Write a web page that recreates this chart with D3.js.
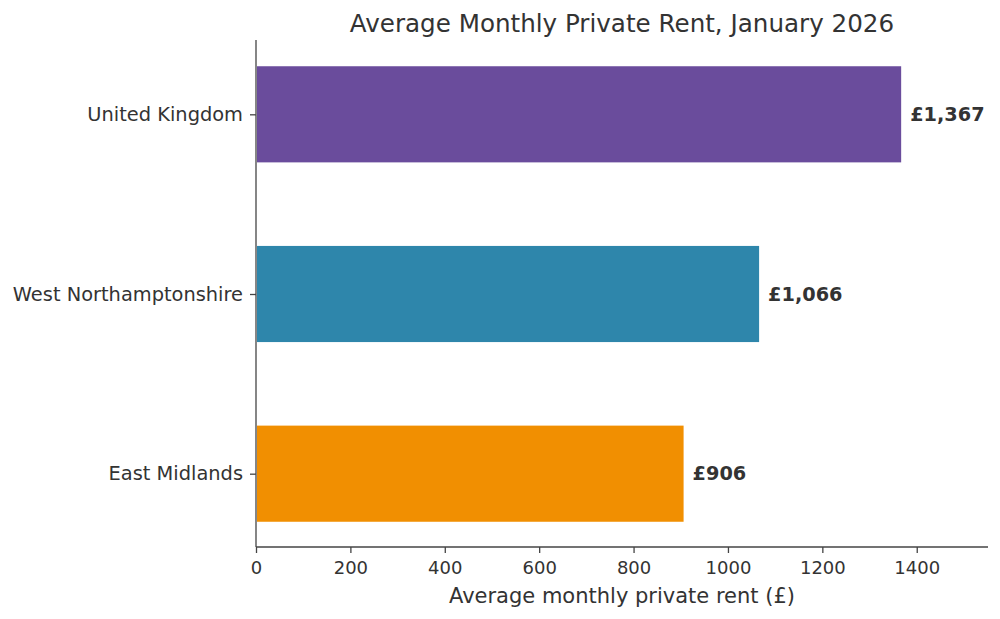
<!DOCTYPE html>
<html>
<head>
<meta charset="utf-8">
<script src="https://cdn.jsdelivr.net/npm/d3@7"></script>
<style>
  body { margin: 0; background: #fff; }
  svg, svg text { font-family: "DejaVu Sans", sans-serif; }
  .axis text { fill: #333; font-size: 18px; font-family: "DejaVu Sans", sans-serif; }
  .y-axis text { font-size: 19.4px; }
  .axis path, .axis line { stroke: #444; stroke-width: 1.3; }
</style>
</head>
<body>
<svg id="chart"></svg>
<script>
// data
const regions = ["United Kingdom", "West Northamptonshire", "East Midlands"];
const rents   = [1367, 1066, 906];
const colours = ["#6a4c9c", "#2e86ab", "#f18f01"];
const xTicks  = [0, 200, 400, 600, 800, 1000, 1200, 1400];

const W = 1000, H = 619;
const margin = { top: 41, right: 12, bottom: 72, left: 256 };
const width  = W - margin.left - margin.right;
const height = H - margin.top - margin.bottom;

const svg = d3.select("#chart").attr("width", W).attr("height", H);
const g = svg.append("g").attr("transform", `translate(${margin.left},${margin.top})`);

const x = d3.scaleLinear().domain([0, 1551]).range([0, width]);
const y = d3.scalePoint().domain(regions).range([0, height]).padding(0.408);
const barH = 0.535 * y.step();

g.append("g").attr("class", "axis x-axis").attr("transform", `translate(0,${height})`)
  .call(d3.axisBottom(x).tickValues(xTicks).tickSize(6).tickPadding(8).tickFormat(d3.format("d")))
  .call(a => a.select(".domain").attr("d", `M0,0H${width}`));

g.append("g").attr("class", "axis y-axis")
  .call(d3.axisLeft(y).tickSize(6).tickPadding(7))
  .call(a => a.select(".domain").attr("d", `M0,-1V${height}`));

g.selectAll("rect.bar").data(regions).join("rect").attr("class", "bar")
  .attr("x", x(0) + 1).attr("y", d => y(d) - barH / 2)
  .attr("width", (d, i) => x(rents[i]) - x(0) - 1).attr("height", barH)
  .attr("fill", (d, i) => colours[i]);

g.selectAll("text.val").data(regions).join("text").attr("class", "val")
  .attr("x", (d, i) => x(rents[i]) + 9).attr("y", d => y(d)).attr("dy", "0.35em")
  .attr("font-size", 19.3).attr("font-weight", "bold").attr("fill", "#333")
  .text((d, i) => "£" + d3.format(",")(rents[i]));

svg.append("text").attr("x", margin.left + width / 2).attr("y", 32)
  .attr("text-anchor", "middle").attr("font-size", 24.6).attr("fill", "#333")
  .text("Average Monthly Private Rent, January 2026");

svg.append("text").attr("x", margin.left + width / 2).attr("y", 603)
  .attr("text-anchor", "middle").attr("font-size", 21).attr("fill", "#333")
  .text("Average monthly private rent (£)");
</script>
</body>
</html>
